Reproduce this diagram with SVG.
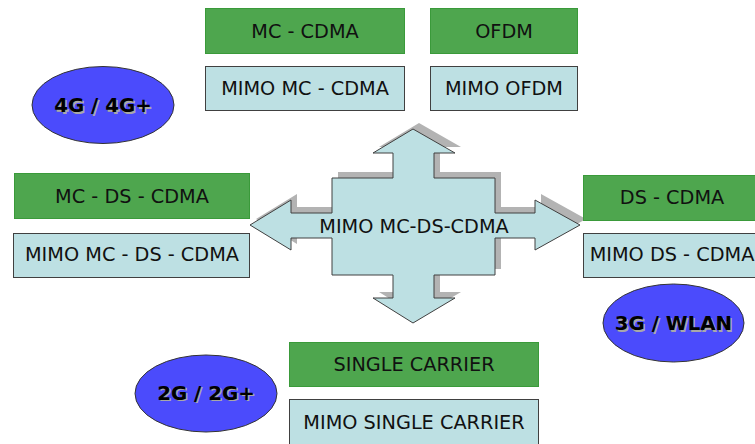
<svg xmlns="http://www.w3.org/2000/svg" width="755" height="444" viewBox="0 0 755 444">
<style>
  .g{fill:#4ea64e;stroke:#3a9a3a;stroke-width:1}
  .b{fill:#bde0e3;stroke:#404040;stroke-width:1}
  .t{font-family:"DejaVu Sans",Verdana,sans-serif;font-size:19.3px;fill:#111;text-anchor:middle}
  .e{fill:#4b4bfc;stroke:#333;stroke-width:1}
  .et{font-family:"DejaVu Sans",Verdana,sans-serif;font-size:19.8px;font-weight:bold;text-anchor:middle}
  .sh{fill:#a8a8a8}
  .tx{fill:#000}
</style>
<defs>
  <path id="cross" d="M413,129 L455,153 L434,153 L434,178 L495,178 L495,213 L535,213 L535,200 L580,225 L535,250 L535,238 L495,238 L495,275 L434,275 L434,298 L455,298 L413,323 L373,298 L393,298 L393,275 L332,275 L332,238 L291,238 L291,250 L250,225 L291,200 L291,213 L332,213 L332,178 L393,178 L393,153 L373,153 Z"/>
</defs>
<rect width="755" height="444" fill="#fff"/>
<g id="connectors"></g>
<g id="hub">
  <use href="#cross" transform="translate(6,-6)" fill="#b3b3b3"/>
  <use href="#cross" fill="#bde0e3" stroke="#404040" stroke-width="1"/>
  <text class="t" x="414" y="233">MIMO MC-DS-CDMA</text>
</g>
<g id="mc-cdma"><rect class="g" x="205.5" y="8.5" width="199" height="45"/><text class="t" x="305" y="38">MC - CDMA</text></g>
<g id="ofdm"><rect class="g" x="430.5" y="8.5" width="147" height="45"/><text class="t" x="504" y="38">OFDM</text></g>
<g id="mimo-mc-cdma"><rect class="b" x="205.5" y="66.5" width="199" height="44"/><text class="t" x="305" y="95">MIMO MC - CDMA</text></g>
<g id="mimo-ofdm"><rect class="b" x="430.5" y="66.5" width="147" height="44"/><text class="t" x="504" y="95">MIMO OFDM</text></g>
<g id="mc-ds-cdma"><rect class="g" x="14.5" y="173.5" width="235" height="45"/><text class="t" x="132" y="203">MC - DS - CDMA</text></g>
<g id="mimo-mc-ds-cdma"><rect class="b" x="13.5" y="233.5" width="236" height="44"/><text class="t" x="132" y="261">MIMO MC - DS - CDMA</text></g>
<g id="ds-cdma"><rect class="g" x="583.5" y="175.5" width="178" height="45"/><text class="t" x="672" y="204">DS - CDMA</text></g>
<g id="mimo-ds-cdma"><rect class="b" x="583.5" y="233.5" width="178" height="44"/><text class="t" x="672" y="261">MIMO DS - CDMA</text></g>
<g id="single-carrier"><rect class="g" x="289.5" y="342.5" width="249" height="44"/><text class="t" x="414" y="371">SINGLE CARRIER</text></g>
<g id="mimo-single-carrier"><rect class="b" x="289.5" y="399.5" width="249" height="50"/><text class="t" x="414" y="429">MIMO SINGLE CARRIER</text></g>
<g id="g4"><ellipse class="e" cx="103" cy="105" rx="71" ry="38.5"/><text class="et sh" x="104.5" y="113.5">4G / 4G+</text><text class="et tx" x="103" y="112">4G / 4G+</text></g>
<g id="g3"><ellipse class="e" cx="673.5" cy="323" rx="70.5" ry="39"/><text class="et sh" x="675" y="331.5">3G / WLAN</text><text class="et tx" x="673.5" y="330">3G / WLAN</text></g>
<g id="g2"><ellipse class="e" cx="206" cy="393.5" rx="71" ry="38.5"/><text class="et sh" x="207.5" y="401">2G / 2G+</text><text class="et tx" x="206" y="399.5">2G / 2G+</text></g>
</svg>
